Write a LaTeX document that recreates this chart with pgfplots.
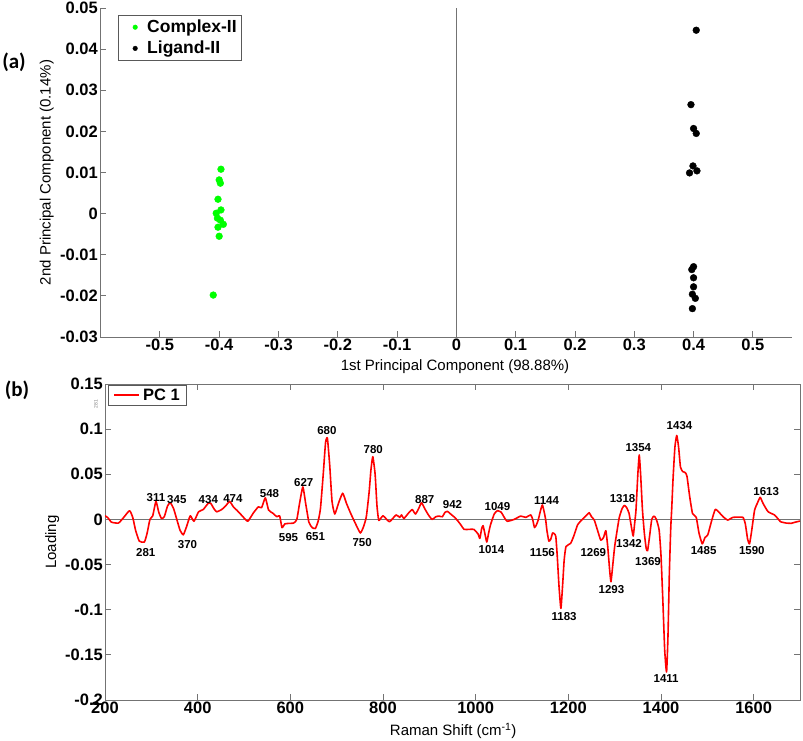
\documentclass[border=0pt]{standalone}
\usepackage{pgfplots}
\pgfplotsset{compat=1.18}
\usepackage{fontspec}
\setmainfont{Liberation Sans}
\newfontfamily\calib{Carlito}
\definecolor{axgray}{gray}{0.45}
\newcommand{\tfont}{\bfseries\fontsize{16.5}{18}\selectfont}
\newcommand{\lfont}{\fontsize{15}{17}\selectfont}
\newcommand{\pfont}{\bfseries\fontsize{11.5}{12}\selectfont}
\begin{document}
\begin{tikzpicture}
\path[use as bounding box] (0,0) rectangle (803pt,-741pt);
\node[font=\calib\bfseries\fontsize{21}{23}\selectfont] at (14pt,-62pt) {(a)};
\node[font=\calib\bfseries\fontsize{21}{23}\selectfont] at (17pt,-390pt) {(b)};
\node[rotate=90, font=\fontsize{5}{6}\selectfont, text=gray] at (96pt,-404pt) {281};

% ---------------- panel (a)
\begin{axis}[
  at={(100pt,-337pt)}, anchor=south west,
  scale only axis, width=692pt, height=329pt,
  xmin=-0.601, xmax=0.566, ymin=-0.03, ymax=0.05,
  axis x line*=bottom, axis y line*=left,
  axis line style={-, axgray, line width=1pt},
  tick align=inside, major tick length=6pt,
  tick style={axgray, line width=0.9pt},
  xtick={-0.5,-0.4,-0.3,-0.2,-0.1,0,0.1,0.2,0.3,0.4,0.5},
  xticklabels={-0.5,-0.4,-0.3,-0.2,-0.1,0,0.1,0.2,0.3,0.4,0.5},
  ytick={-0.03,-0.02,-0.01,0,0.01,0.02,0.03,0.04,0.05},
  yticklabels={-0.03,-0.02,-0.01,0,0.01,0.02,0.03,0.04,0.05},
  xticklabel style={font=\tfont, inner sep=2pt},
  yticklabel style={font=\tfont, inner sep=2pt},
  xlabel={1st Principal Component (98.88\%)},
  ylabel={2nd Principal Component (0.14\%)},
  xlabel style={font=\lfont, at={(axis description cs:0.513,-0.091)}, anchor=center},
  ylabel style={font=\lfont, at={(axis description cs:-0.077,0.5)}, anchor=center, rotate=0},
  legend style={at={(0.026,0.979)}, anchor=north west, draw=black!65,
    font=\bfseries\fontsize{17.5}{19}\selectfont, inner xsep=3pt, inner ysep=3pt,
    row sep=3pt},
  legend cell align=left,
  legend image code/.code={\path[draw=none, fill=none] (0pt,-3pt) rectangle (24pt,3pt);
     \draw[#1, mark size=2.3pt] plot coordinates {(14pt,0pt)};},
  clip=false,
]
\addplot[forget plot, axgray, line width=1pt] coordinates {(0,-0.03) (0,0.05)};
\addplot[only marks, mark=*, mark size=3.4pt, color=green, mark options={fill=green, draw=green}] coordinates {
(-0.397,0.0108) (-0.400,0.0082) (-0.398,0.0074) (-0.402,0.0035) (-0.405,0.0001)
(-0.397,0.0009) (-0.403,-0.0011) (-0.398,-0.0016) (-0.393,-0.0026) (-0.402,-0.0033)
(-0.400,-0.0055) (-0.410,-0.0198)
};
\addlegendentry{Complex-II}
\addplot[only marks, mark=*, mark size=3.4pt, color=black, mark options={fill=black, draw=black}] coordinates {
(0.4045,0.0446) (0.3956,0.0265) (0.400,0.0207) (0.4045,0.0195) (0.399,0.0116)
(0.3932,0.0099) (0.4057,0.0104) (0.400,-0.0129) (0.397,-0.0136) (0.400,-0.0156)
(0.400,-0.0178) (0.398,-0.0196) (0.403,-0.0206) (0.398,-0.0231)
};
\addlegendentry{Ligand-II}
\end{axis}

% ---------------- panel (b)
\begin{axis}[
  at={(105pt,-700pt)}, anchor=south west,
  scale only axis, width=695pt, height=316pt,
  xmin=200, xmax=1700, ymin=-0.2, ymax=0.15,
  axis line style={axgray, line width=1pt},
  tick align=inside, major tick length=6pt,
  tick style={axgray, line width=0.9pt},
  xtick={200,400,600,800,1000,1200,1400,1600},
  xticklabels={200,400,600,800,1000,1200,1400,1600},
  ytick={-0.2,-0.15,-0.1,-0.05,0,0.05,0.1,0.15},
  yticklabels={-0.2,-0.15,-0.1,-0.05,0,0.05,0.1,0.15},
  xticklabel style={font=\tfont, inner sep=2pt},
  yticklabel style={font=\tfont, inner sep=2pt},
  xlabel={Raman Shift (cm\textsuperscript{-1})},
  ylabel={Loading},
  xlabel style={font=\lfont, at={(axis description cs:0.501,-0.098)}, anchor=center},
  ylabel style={font=\lfont, at={(axis description cs:-0.076,0.5)}, anchor=center},
]
\addplot[forget plot, axgray, line width=1pt] coordinates {(200,0) (1700,0)};
\addplot[forget plot, draw=red, color=red, line width=1.6pt, line join=round, smooth, tension=0.3] table {
x y
200 0.004
206 0.002
214 -0.003
229 -0.004
240 0.002
253 0.0097
260 0.002
266 -0.012
274 -0.024
285 -0.025
291 -0.015
297 0.000
303 0.004
310 0.020
316 0.008
322 0.001
328 0.003
335 0.015
341 0.0185
348 0.012
355 0.000
362 -0.012
369 -0.017
376 -0.008
384 0.004
392 -0.002
402 0.0085
412 0.011
423 0.018
428 0.018
435 0.012
441 0.0085
452 0.011
462 0.016
469 0.020
477 0.014
485 0.010
496 0.004
508 -0.002
520 0.007
531 0.014
538 0.013
546 0.024
553 0.0105
562 0.007
571 0.003
577 0.004
582 -0.009
588 -0.005
593 -0.0045
607 -0.004
614 0.000
620 0.018
627 0.036
633 0.018
640 -0.003
647 -0.009
654 -0.010
660 -0.002
665 0.012
671 0.050
676 0.085
680 0.090
685 0.060
690 0.020
696 0.006
704 0.018
713 0.029
721 0.018
730 0.007
740 -0.004
751 -0.015
758 -0.008
764 0.003
770 0.030
774 0.055
778 0.0695
783 0.050
787 0.015
791 -0.001
800 0.004
814 -0.0025
828 0.005
836 0.0023
840 0.005
845 0.001
855 0.007
863 0.011
870 0.006
877 0.012
883 0.0185
890 0.012
898 0.005
906 0.000
914 0.003
921 0.0037
928 0.003
934 0.008
939 0.009
946 0.006
953 0.003
960 -0.0007
968 -0.006
975 -0.011
986 -0.011
996 -0.011
1005 -0.016
1009 -0.021
1013 -0.010
1016 -0.007
1020 -0.016
1024 -0.025
1028 -0.015
1032 -0.006
1040 0.006
1047 0.0097
1055 0.008
1062 0.002
1068 -0.002
1083 0.000
1097 0.0037
1108 0.0023
1119 0.005
1123 0.000
1127 -0.009
1131 -0.006
1135 -0.0007
1140 0.010
1144 0.016
1148 0.008
1151 0.000
1154 -0.013
1158 -0.024
1162 -0.022
1166 -0.015
1170 -0.016
1173 -0.019
1176 -0.040
1180 -0.075
1184 -0.0985
1188 -0.070
1191 -0.045
1195 -0.030
1205 -0.0265
1212 -0.018
1220 -0.006
1230 0.000
1238 0.004
1245 0.0074
1250 0.003
1256 -0.0007
1263 -0.012
1270 -0.023
1276 -0.020
1281 -0.0125
1285 -0.030
1289 -0.055
1292 -0.069
1296 -0.050
1300 -0.030
1306 -0.0099
1310 0.0023
1316 0.012
1321 0.0156
1326 0.013
1331 0.0068
1336 -0.008
1340 -0.0184
1343 -0.005
1346 0.0104
1350 0.050
1353 0.0714
1356 0.050
1360 0.0104
1364 -0.015
1368 -0.032
1371 -0.0347
1375 -0.020
1380 0.000
1385 0.0037
1390 0.000
1396 -0.0118
1400 -0.040
1404 -0.090
1408 -0.145
1412 -0.169
1415 -0.130
1418 -0.060
1421 -0.010
1423 0.0104
1426 0.045
1430 0.080
1434 0.093
1438 0.080
1442 0.058
1447 0.053
1452 0.052
1456 0.048
1462 0.025
1468 0.0067
1476 0.0023
1482 -0.015
1489 -0.027
1495 -0.020
1501 -0.017
1509 -0.002
1517 0.011
1525 0.008
1534 0.003
1544 -0.0007
1555 0.0023
1566 0.0025
1577 0.0023
1582 -0.005
1587 -0.022
1591 -0.027
1595 -0.015
1602 0.0104
1608 0.018
1614 0.0245
1620 0.018
1631 0.0086
1645 0.005
1652 0.001
1658 -0.0025
1670 -0.004
1681 -0.0043
1690 -0.003
1700 -0.0018
};
\node[draw=black!65, fill=white, anchor=north west, inner xsep=6pt, inner ysep=4pt,
  font=\bfseries\fontsize{16.5}{18}\selectfont]
  at (rel axis cs:0.0043,0.997)
  {\textcolor{red}{\rule[0.3em]{25pt}{1.6pt}}\hspace{4pt}PC 1};
\node[font=\pfont] at (axis cs:288,-0.0365) {281};
\node[font=\pfont] at (axis cs:310,0.024) {311};
\node[font=\pfont] at (axis cs:355,0.0223) {345};
\node[font=\pfont] at (axis cs:378,-0.0273) {370};
\node[font=\pfont] at (axis cs:423,0.0215) {434};
\node[font=\pfont] at (axis cs:476,0.0234) {474};
\node[font=\pfont] at (axis cs:555,0.029) {548};
\node[font=\pfont] at (axis cs:596,-0.0199) {595};
\node[font=\pfont] at (axis cs:629,0.0407) {627};
\node[font=\pfont] at (axis cs:654,-0.019) {651};
\node[font=\pfont] at (axis cs:679,0.099) {680};
\node[font=\pfont] at (axis cs:755,-0.0258) {750};
\node[font=\pfont] at (axis cs:779,0.0777) {780};
\node[font=\pfont] at (axis cs:890,0.0223) {887};
\node[font=\pfont] at (axis cs:950,0.017) {942};
\node[font=\pfont] at (axis cs:1034,-0.0328) {1014};
\node[font=\pfont] at (axis cs:1047,0.014) {1049};
\node[font=\pfont] at (axis cs:1153,0.0207) {1144};
\node[font=\pfont] at (axis cs:1144,-0.0365) {1156};
\node[font=\pfont] at (axis cs:1191,-0.108) {1183};
\node[font=\pfont] at (axis cs:1254,-0.0365) {1269};
\node[font=\pfont] at (axis cs:1293,-0.078) {1293};
\node[font=\pfont] at (axis cs:1317,0.0226) {1318};
\node[font=\pfont] at (axis cs:1331,-0.0265) {1342};
\node[font=\pfont] at (axis cs:1351,0.080) {1354};
\node[font=\pfont] at (axis cs:1372,-0.047) {1369};
\node[font=\pfont] at (axis cs:1411,-0.176) {1411};
\node[font=\pfont] at (axis cs:1440,0.1035) {1434};
\node[font=\pfont] at (axis cs:1492,-0.0347) {1485};
\node[font=\pfont] at (axis cs:1596,-0.0347) {1590};
\node[font=\pfont] at (axis cs:1627,0.031) {1613};
\end{axis}
\end{tikzpicture}
\end{document}
